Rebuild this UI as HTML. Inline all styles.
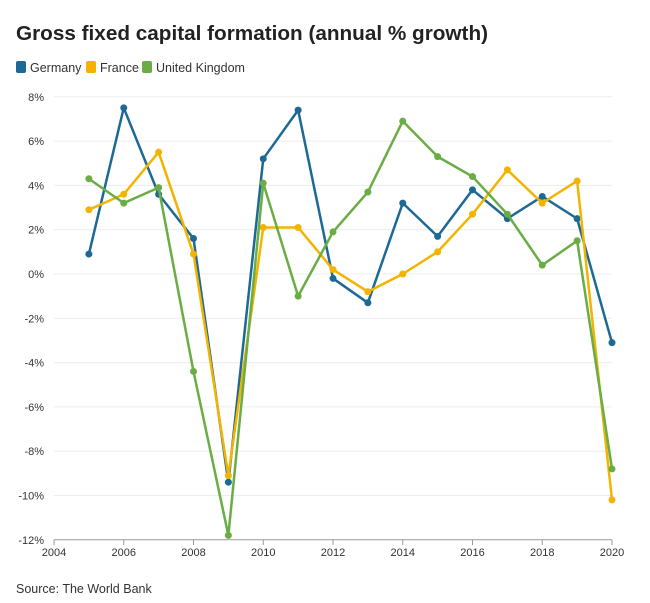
<!DOCTYPE html>
<html><head><meta charset="utf-8">
<style>
body{margin:0;background:#fff;font-family:"Liberation Sans",sans-serif;}
svg text{font-family:"Liberation Sans",sans-serif;}
</style></head>
<body>
<svg id="c" width="650" height="598" xmlns="http://www.w3.org/2000/svg">
<text x="16" y="40" font-size="20" font-weight="bold" fill="#222" textLength="472" lengthAdjust="spacingAndGlyphs">Gross fixed capital formation (annual % growth)</text>
<rect x="16" y="61" width="10" height="12" rx="2" fill="#1d6996"/>
<text x="30" y="72" font-size="12.5" fill="#333">Germany</text>
<rect x="86" y="61" width="10" height="12" rx="2" fill="#f2b400"/>
<text x="100" y="72" font-size="12.5" fill="#333">France</text>
<rect x="142" y="61" width="10" height="12" rx="2" fill="#6aad45"/>
<text x="156" y="72" font-size="12.5" fill="#333">United Kingdom</text>
<text x="16" y="593" font-size="12.5" fill="#333">Source: The World Bank</text>
<g id="g"></g>
</svg>
<script>
var g=document.getElementById('g'),h='';
function X(y){return 54+(y-2004)*34.875}
function Y(v){return 274-v*22.15}
for(var v=-12;v<=8;v+=2){var y=Y(v);
h+='<line x1="54" x2="612" y1="'+y+'" y2="'+y+'" stroke="'+(v==-12?'#999':'#ececec')+'" stroke-width="1"/>';
h+='<text x="44" y="'+(y+4)+'" font-size="11" text-anchor="end" fill="#333">'+v+'%</text>';}
for(var yr=2004;yr<=2020;yr+=2){h+='<text x="'+X(yr)+'" y="556" font-size="11" text-anchor="middle" fill="#333">'+yr+'</text>';
h+='<line x1="'+X(yr)+'" x2="'+X(yr)+'" y1="540" y2="545" stroke="#999"/>';}
var d={
'#1d6996':[0.9,7.5,3.6,1.6,-9.4,5.2,7.4,-0.2,-1.3,3.2,1.7,3.8,2.5,3.5,2.5,-3.1],
'#f2b400':[2.9,3.6,5.5,0.9,-9.1,2.1,2.1,0.2,-0.8,0.0,1.0,2.7,4.7,3.2,4.2,-10.2],
'#6aad45':[4.3,3.2,3.9,-4.4,-11.8,4.1,-1.0,1.9,3.7,6.9,5.3,4.4,2.7,0.4,1.5,-8.8]};
for(var c in d){var p=d[c].map(function(v,i){return X(2005+i)+','+Y(v)}).join(' ');
h+='<polyline points="'+p+'" fill="none" stroke="'+c+'" stroke-width="2.5" stroke-linejoin="round"/>';
d[c].forEach(function(v,i){h+='<circle cx="'+X(2005+i)+'" cy="'+Y(v)+'" r="3.5" fill="'+c+'"/>';});}
g.innerHTML=h;
</script>
</body></html>
